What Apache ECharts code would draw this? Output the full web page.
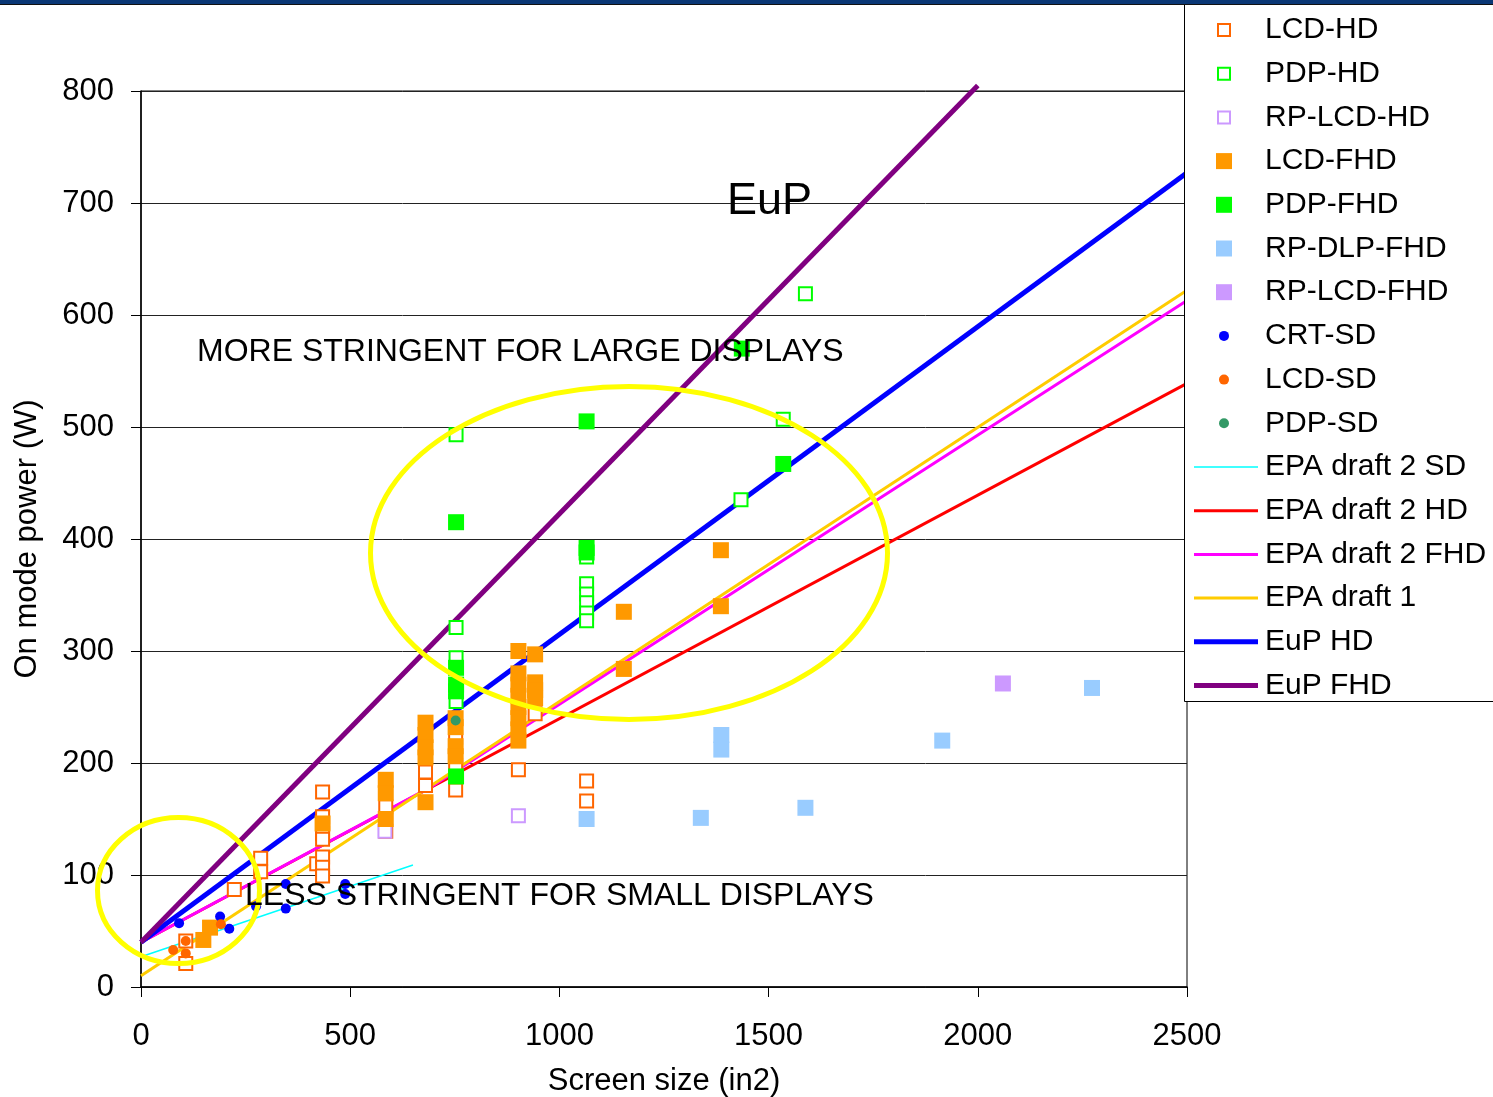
<!DOCTYPE html>
<html>
<head>
<meta charset="utf-8">
<script src="https://cdn.jsdelivr.net/npm/echarts@6/dist/echarts.min.js"></script>
<style>
html,body{margin:0;padding:0;background:#fff;}
#c{width:1493px;height:1097px;}
</style>
</head>
<body>
<div id="c"></div>
<script>
// ---- data (screen size in2, on mode power W) ----
const lcdHD = [[107,41],[107,21],[223,87],[286,115],[286,103],[420,110],[434,174],[434,152],[434,137],[434,132],[434,116],[434,107],[434,99],[585,161],[585,139],[680,192],[680,180],[752,223],[752,198],[752,176],[902,194],[942,244],[1065,184],[1065,166]];
const pdpHD = [[753,493],[753,321],[753,294],[753,255],[1065,384],[1065,360],[1065,351],[1065,343],[1065,334],[1065,327],[1434,435],[1535,507],[1588,619]];
const rpLcdHD = [[583,139],[902,153]];
const lcdFHD = [[149,42],[165,53],[434,146],[585,185],[585,173],[585,150],[680,236],[680,225],[680,214],[680,205],[680,165],[752,240],[752,232],[752,215],[752,206],[902,300],[902,280],[902,270],[902,260],[902,250],[902,240],[902,230],[902,220],[942,297],[942,272],[942,265],[942,258],[1154,335],[1154,284],[1386,390],[1386,340]];
const pdpFHD = [[753,415],[753,285],[753,270],[753,264],[753,188],[1065,505],[1065,392],[1065,388],[1436,570],[1535,467]];
const rpDlpFHD = [[1065,150],[1338,151],[1387,225],[1387,212],[1588,160],[1915,220],[2273,267]];
const rpLcdFHD = [[2060,271]];
const crtSD = [[91,57],[189,63],[211,52],[275,72],[346,92],[346,70],[488,92],[488,83]];
const lcdSD = [[77,33],[107,41],[107,30],[191,56]];
const pdpSD = [[752,238]];

const epa2SD = [[0,27],[650,109]];
const epa2HD = [[0,40],[2500,539]];
const epa2FHD = [[0,40],[690,178],[2500,613]];
const epa1 = [[0,10],[2500,622]];
const eupHD = [[0,40],[2500,727]];
const eupFHD = [[0,40],[2000,805]];

const scatterNames = ['LCD-HD','PDP-HD','RP-LCD-HD','LCD-FHD','PDP-FHD','RP-DLP-FHD','RP-LCD-FHD','CRT-SD','LCD-SD','PDP-SD'];
const lineNames = ['EPA draft 2 SD','EPA draft 2 HD','EPA draft 2 FHD','EPA draft 1','EuP HD','EuP FHD'];
const xTicks = [0,500,1000,1500,2000,2500];
const yTicks = [0,100,200,300,400,500,600,700,800];

const FONT = 'Liberation Sans, Arial, sans-serif';
const lineWidths = {'EPA draft 2 SD':1.5,'EPA draft 2 HD':3,'EPA draft 2 FHD':3,'EPA draft 1':3,'EuP HD':5,'EuP FHD':5};

// legend icon shapes (16x16 box; leading moveTo points fix the box size)
const ICON_OPEN = 'path://M0,0M16,16M2,2h12v12h-12z';
const ICON_FILL = 'path://M0,0h16v16h-16z';
const ICON_DOT = 'path://M0,0M16,16M13,8A5,5,0,1,1,3,8A5,5,0,1,1,13,8Z';
const scatterIcons = [ICON_OPEN, ICON_OPEN, ICON_OPEN, ICON_FILL, ICON_FILL, ICON_FILL, ICON_FILL, ICON_DOT, ICON_DOT, ICON_DOT];

function lineS(name, data, color, clip) {
  return {name, type:'line', data, symbol:'none', showSymbol:false, clip: clip !== false, z:2,
    lineStyle:{color, width:lineWidths[name]}, itemStyle:{color}, silent:true};
}
function openSq(name, data, color) {
  return {name, type:'scatter', data, symbol:'rect', symbolSize:13, z:3,
    itemStyle:{color:'#fff', borderColor:color, borderWidth:2, opacity:1}};
}
function fillSq(name, data, color) {
  return {name, type:'scatter', data, symbol:'rect', symbolSize:16, z:3,
    itemStyle:{color, opacity:1}};
}
function dot(name, data, color) {
  return {name, type:'scatter', data, symbol:'circle', symbolSize:10, z:3,
    itemStyle:{color, opacity:1}};
}

const chart = echarts.init(document.getElementById('c'), null, {renderer:'canvas'});
chart.setOption({
  animation:false,
  backgroundColor:'#fff',
  textStyle:{fontFamily:FONT},
  grid:{left:141, top:91, width:1046, height:896, outerBoundsMode:'none', containLabel:false,
    show:true, borderColor:'#000', borderWidth:1, backgroundColor:'transparent'},
  xAxis:{type:'value', min:xTicks[0], max:xTicks[xTicks.length-1], interval:500,
    name:'Screen size (in2)', nameLocation:'middle', nameGap:79,
    nameTextStyle:{fontSize:31, color:'#000', fontFamily:FONT},
    axisLine:{show:true, lineStyle:{color:'#000', width:1.5}},
    axisTick:{show:true, inside:false, length:10, lineStyle:{color:'#000', width:1}},
    axisLabel:{fontSize:31, color:'#000', margin:34, fontFamily:FONT, formatter:(v)=>String(v)},
    splitLine:{show:false}},
  yAxis:{type:'value', min:yTicks[0], max:yTicks[yTicks.length-1], interval:100,
    name:'On mode power (W)', nameLocation:'middle', nameGap:98, nameRotate:90,
    nameTextStyle:{fontSize:31, color:'#000', fontFamily:FONT},
    axisLine:{show:true, lineStyle:{color:'#000', width:1.5}},
    axisTick:{show:true, inside:false, length:10, lineStyle:{color:'#000', width:1}},
    axisLabel:{fontSize:31, color:'#000', margin:27, fontFamily:FONT, padding:[7,0,0,0], formatter:(v)=>String(v)},
    splitLine:{show:true, lineStyle:{color:'#222', width:1}}},
  legend:[
    {data:scatterNames.map((n,i) => ({name:n, icon:scatterIcons[i]})),
     orient:'vertical', left:1215, top:15, padding:0, itemWidth:16, itemHeight:16, itemGap:13.7, z:20,
     textStyle:{fontSize:30, color:'#000', lineHeight:30, fontFamily:FONT, padding:[0,0,0,28]}, selectedMode:false},
    {data:lineNames.map(n => ({name:n, icon:'path://M0,0h64v' + lineWidths[n] + 'h-64z'})),
     orient:'vertical', left:1194, top:452, padding:0, itemWidth:64, itemHeight:13, itemGap:13.7, z:20,
     textStyle:{fontSize:30, color:'#000', lineHeight:30, fontFamily:FONT, padding:[0,0,0,2]}, selectedMode:false}
  ],
  series:[
    lineS('EPA draft 2 SD', epa2SD, '#00ffff'),
    lineS('EPA draft 2 HD', epa2HD, '#ff0000'),
    lineS('EPA draft 2 FHD', epa2FHD, '#ff00ff'),
    lineS('EPA draft 1', epa1, '#ffcc00'),
    lineS('EuP HD', eupHD, '#0000ff'),
    lineS('EuP FHD', eupFHD, '#800080', false),
    openSq('LCD-HD', lcdHD, '#ff6600'),
    openSq('PDP-HD', pdpHD, '#00ff00'),
    openSq('RP-LCD-HD', rpLcdHD, '#cc99ff'),
    fillSq('LCD-FHD', lcdFHD, '#ff9900'),
    fillSq('PDP-FHD', pdpFHD, '#00ff00'),
    fillSq('RP-DLP-FHD', rpDlpFHD, '#99ccff'),
    fillSq('RP-LCD-FHD', rpLcdFHD, '#cc99ff'),
    dot('CRT-SD', crtSD, '#0000ff'),
    dot('LCD-SD', lcdSD, '#ff6600'),
    dot('PDP-SD', pdpSD, '#339966')
  ],
  graphic:[
    {type:'rect', z:30, shape:{x:0, y:0, width:1493, height:4}, style:{fill:'#0a3775'}},
    {type:'rect', z:30, shape:{x:0, y:4, width:1493, height:1}, style:{fill:'#111'}},
    {type:'rect', z:15, shape:{x:1184.5, y:4.5, width:320, height:697}, style:{fill:'#fff', stroke:'#000', lineWidth:1}},
    {type:'ellipse', z:10, shape:{cx:629, cy:553, rx:258.5, ry:166.5}, style:{fill:'none', stroke:'#ffff00', lineWidth:5}},
    {type:'ellipse', z:10, shape:{cx:178.5, cy:890.5, rx:81, ry:73}, style:{fill:'none', stroke:'#ffff00', lineWidth:5}},
    {type:'text', z:12, x:727, y:202, style:{text:'EuP', fontSize:45, fontFamily:FONT, fill:'#000', verticalAlign:'middle', align:'left'}},
    {type:'text', z:12, x:197, y:352, style:{text:'MORE STRINGENT FOR LARGE DISPLAYS', fontSize:32, fontFamily:FONT, fill:'#000', verticalAlign:'middle', align:'left'}},
    {type:'text', z:12, x:245, y:896, style:{text:'LESS STRINGENT FOR SMALL DISPLAYS', fontSize:32, fontFamily:FONT, fill:'#000', verticalAlign:'middle', align:'left'}}
  ]
});
</script>
</body>
</html>
